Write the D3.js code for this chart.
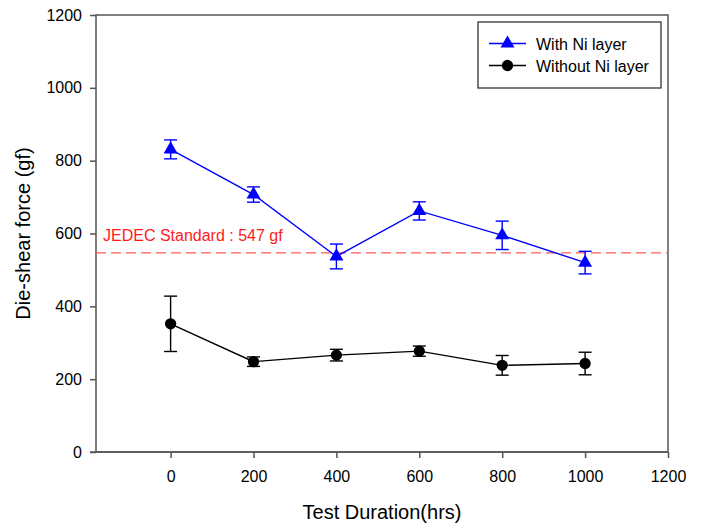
<!DOCTYPE html>
<html>
<head>
<meta charset="utf-8">
<script src="https://cdn.jsdelivr.net/npm/d3@7"></script>
<style>
  html, body { margin: 0; padding: 0; background: #fff; }
  svg { display: block; font-family: "Liberation Sans", Arial, sans-serif; }
</style>
</head>
<body>
<svg id="chart" width="704" height="525"></svg>
<script>
// Test durations (hrs)
const durations = [0, 200, 400, 600, 800, 1000];
// Die-shear force (gf) with Ni layer, mean and error
const withNi = [831, 707, 537, 662, 595, 520];
const withNiErr = [26, 21, 34, 25, 39, 31];
// Die-shear force (gf) without Ni layer, mean and error
const withoutNi = [352, 248, 266, 277, 238, 243];
const withoutNiErr = [76, 13, 16, 14, 27, 31];
// Reference threshold
const jedecValue = 547;
const jedecLabel = "JEDEC Standard : 547 gf";
const xTicks = [0, 200, 400, 600, 800, 1000, 1200];
const yTicks = [0, 200, 400, 600, 800, 1000, 1200];
const seriesNames = ["With Ni layer", "Without Ni layer"];

(function draw() {
  const svg = d3.select("#chart");
  const pl = 96, pr = 668, pt = 15, pb = 452;

  const x = d3.scaleLinear().domain([-180, 1200]).range([pl, pr]);
  const y = d3.scaleLinear().domain([0, 1200]).range([pb, pt]);

  const axisColor = "#555";

  // Frame
  svg.append("rect")
    .attr("x", pl).attr("y", pt)
    .attr("width", pr - pl).attr("height", pb - pt)
    .attr("fill", "none").attr("stroke", axisColor).attr("stroke-width", 1.5);

  // Axes
  const xAxis = svg.append("g")
    .attr("transform", `translate(0,${pb})`)
    .call(d3.axisBottom(x).tickValues(xTicks).tickSize(6).tickPadding(12.5).tickFormat(d3.format("d")));
  const yAxis = svg.append("g")
    .attr("transform", `translate(${pl},0)`)
    .call(d3.axisLeft(y).tickValues(yTicks).tickSize(6).tickPadding(8).tickFormat(d3.format("d")));
  [xAxis, yAxis].forEach(g => {
    g.select(".domain").remove();
    g.selectAll(".tick line").attr("stroke", axisColor).attr("stroke-width", 1.5);
    g.selectAll(".tick text").attr("fill", "#000").style("font-size", "16px")
      .style("font-family", "'Liberation Sans', Arial, sans-serif");
  });
  // Bottom axis line extends to the left tick
  svg.append("line")
    .attr("x1", pl - 6).attr("x2", pr)
    .attr("y1", pb).attr("y2", pb)
    .attr("stroke", axisColor).attr("stroke-width", 1.5);

  // Axis titles
  svg.append("text")
    .attr("x", (pl + pr) / 2).attr("y", 519)
    .attr("text-anchor", "middle")
    .style("font-size", "20px").attr("fill", "#000")
    .text("Test Duration(hrs)");
  svg.append("text")
    .attr("transform", `translate(30,${(pt + pb) / 2}) rotate(-90)`)
    .attr("text-anchor", "middle")
    .style("font-size", "20px").attr("fill", "#000")
    .text("Die-shear force (gf)");

  // JEDEC reference line
  svg.append("line")
    .attr("x1", pl).attr("x2", pr)
    .attr("y1", y(jedecValue)).attr("y2", y(jedecValue))
    .attr("stroke", "#ff5a5a").attr("stroke-width", 1.3)
    .attr("stroke-dasharray", "10,5");
  svg.append("text")
    .attr("x", 103).attr("y", y(jedecValue) - 12)
    .style("font-size", "16px").attr("fill", "#ff1a1a")
    .text(jedecLabel);

  // Series
  const series = [
    { name: seriesNames[0], values: withNi, errs: withNiErr, color: "#0000ff", symbol: d3.symbolTriangle },
    { name: seriesNames[1], values: withoutNi, errs: withoutNiErr, color: "#000000", symbol: d3.symbolCircle }
  ];

  const line = d3.line().x(d => x(d.t)).y(d => y(d.v));

  series.forEach(s => {
    const pts = durations.map((t, i) => ({ t, v: s.values[i], e: s.errs[i] }));
    const g = svg.append("g");
    g.append("path").datum(pts)
      .attr("d", line).attr("fill", "none")
      .attr("stroke", s.color).attr("stroke-width", 1.4);
    const eb = g.selectAll(".eb").data(pts).enter().append("g");
    eb.append("line")
      .attr("x1", d => x(d.t)).attr("x2", d => x(d.t))
      .attr("y1", d => y(d.v + d.e)).attr("y2", d => y(d.v - d.e))
      .attr("stroke", s.color).attr("stroke-width", 1.4);
    [1, -1].forEach(sign => {
      eb.append("line")
        .attr("x1", d => x(d.t) - 6.5).attr("x2", d => x(d.t) + 6.5)
        .attr("y1", d => y(d.v + sign * d.e)).attr("y2", d => y(d.v + sign * d.e))
        .attr("stroke", s.color).attr("stroke-width", 1.4);
    });
    g.selectAll(".pt").data(pts).enter().append("path")
      .attr("transform", d => `translate(${x(d.t)},${y(d.v)})`)
      .attr("d", d3.symbol().type(s.symbol).size(s.symbol === d3.symbolCircle ? 100 : 85))
      .attr("fill", s.color);
  });

  // Legend
  const lg = svg.append("g");
  lg.append("rect")
    .attr("x", 478).attr("y", 22).attr("width", 183).attr("height", 66)
    .attr("fill", "#fff").attr("stroke", "#222").attr("stroke-width", 1.2);
  series.forEach((s, i) => {
    const ly = 43.5 + i * 22;
    lg.append("line").attr("x1", 489).attr("x2", 526).attr("y1", ly).attr("y2", ly)
      .attr("stroke", s.color).attr("stroke-width", 1.4);
    lg.append("path")
      .attr("transform", `translate(507.5,${ly})`)
      .attr("d", d3.symbol().type(s.symbol).size(s.symbol === d3.symbolCircle ? 100 : 85))
      .attr("fill", s.color);
    lg.append("text").attr("x", 536).attr("y", ly + 6)
      .style("font-size", "16px").attr("fill", "#000")
      .text(s.name);
  });
})();
</script>
</body>
</html>
